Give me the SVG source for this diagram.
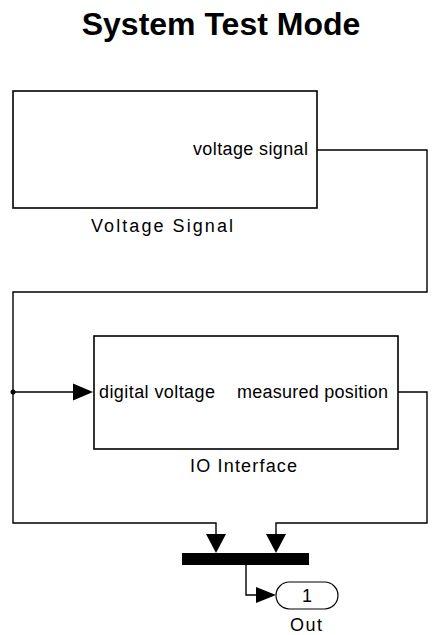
<svg xmlns="http://www.w3.org/2000/svg" width="433" height="635" viewBox="0 0 433 635">
<style>
.blk{fill:#fff;stroke:#000;stroke-width:1.6}
.ln{fill:none;stroke:#000;stroke-width:1.4}
.t{font-family:"Liberation Sans",Arial,sans-serif;font-size:18px;fill:#000}
.ttl{font-family:"Liberation Sans",Arial,sans-serif;font-size:32px;font-weight:bold;fill:#000}
.ah{fill:#000}
</style>
<rect width="433" height="635" fill="#fff"/>
<text class="ttl" x="221" y="35" text-anchor="middle">System Test Mode</text>
<g id="connectors">
<polyline class="ln" points="317,150 427,150 427,292 13,292 13,523 216,523 216,535"/>
<polyline class="ln" points="13,392 75,392"/>
<circle cx="13" cy="392" r="2.5" class="ah"/>
<polyline class="ln" points="398,392 427,392 427,523 276,523 276,535"/>
<polyline class="ln" points="246,565 246,595 257,595"/>
<polygon class="ah" points="73,383.5 93,392 73,400.5"/>
<polygon class="ah" points="206,534 226,534 216,553"/>
<polygon class="ah" points="266,534 286,534 276,553"/>
<polygon class="ah" points="256,587 276,595 256,603"/>
</g>
<g id="voltage-signal">
<rect class="blk" x="13" y="91" width="304" height="117"/>
<text class="t" x="308" y="155" text-anchor="end" textLength="115" lengthAdjust="spacing">voltage signal</text>
<text class="t" x="91" y="232" textLength="142" lengthAdjust="spacing">Voltage Signal</text>
</g>
<g id="io-interface">
<rect class="blk" x="94" y="336" width="304" height="113"/>
<text class="t" x="99" y="398" textLength="116" lengthAdjust="spacing">digital voltage</text>
<text class="t" x="237" y="398" textLength="151" lengthAdjust="spacing">measured position</text>
<text class="t" x="190" y="472" textLength="107" lengthAdjust="spacing">IO Interface</text>
</g>
<g id="mux">
<rect x="182" y="553" width="127" height="12" fill="#000"/>
</g>
<g id="out">
<rect x="276" y="582" width="62" height="27" rx="13.5" ry="13.5" fill="#fff" stroke="#000" stroke-width="1.2"/>
<text class="t" x="307" y="602" text-anchor="middle">1</text>
<text class="t" x="290" y="631" textLength="32" lengthAdjust="spacing">Out</text>
</g>
</svg>
